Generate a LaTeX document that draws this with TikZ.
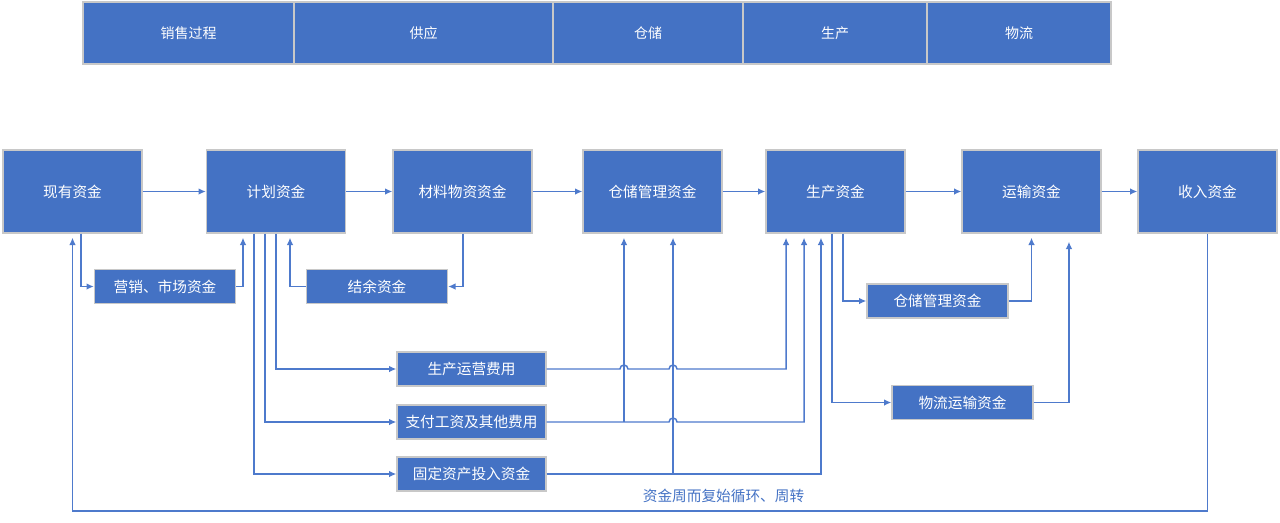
\documentclass[tikz,border=0pt]{standalone}
\usepackage{fontspec}
\newfontfamily\cjkfont{Noto Sans CJK SC}
\usetikzlibrary{arrows.meta,calc}
\definecolor{boxblue}{RGB}{68,114,196}
\definecolor{linkblue}{RGB}{78,122,204}
\definecolor{boxedge}{RGB}{200,200,200}
\tikzset{
  box/.style={draw=boxedge, line width=1pt, fill=boxblue, text=white, inner sep=0pt,
    font=\cjkfont\fontsize{11pt}{13pt}\selectfont},
  bigbox/.style={box, minimum width=104.25pt, minimum height=62.25pt},
  subbox/.style={box, minimum width=105.75pt, minimum height=25.5pt},
  costbox/.style={box, minimum width=111.75pt, minimum height=25.5pt},
  headbox/.style={box, minimum height=46.5pt, font=\cjkfont\fontsize{10.5pt}{12pt}\selectfont},
  link/.style={draw=linkblue, line width=1.1pt},
  flow/.style={link, -{Latex[length=5.5pt,width=5pt]}},
  flowup/.style={flow, shorten >=3pt},
}
\begin{document}
\begin{tikzpicture}[x=0.75pt,y=0.75pt,yscale=-1,xscale=1]
\path[use as bounding box] (0,0) rectangle (1280,522);

% Header row
\node[headbox, minimum width=158.25pt] (hxiaoshou) at (188.5,33) {销售过程};
\node[headbox, minimum width=194.25pt] (hgongying) at (423.5,33) {供应};
\node[headbox, minimum width=142.5pt] (hcangchu) at (648,33) {仓储};
\node[headbox, minimum width=138pt] (hshengchan) at (835,33) {生产};
\node[headbox, minimum width=138pt] (hwuliu) at (1019,33) {物流};

% Main row
\node[bigbox] (xianyou) at (72.5,191.5) {现有资金};
\node[bigbox] (jihua) at (276,191.5) {计划资金};
\node[bigbox] (cailiao) at (462.5,191.5) {材料物资资金};
\node[bigbox] (cangchu) at (652.5,191.5) {仓储管理资金};
\node[bigbox] (shengchan) at (835.5,191.5) {生产资金};
\node[bigbox] (yunshu) at (1031.5,191.5) {运输资金};
\node[bigbox] (shouru) at (1207.5,191.5) {收入资金};

% Lower boxes
\node[subbox] (yingxiao) at (165,286.5) {营销、市场资金};
\node[subbox] (jieyu) at (377,286.5) {结余资金};
\node[subbox] (cangchub) at (937.5,301) {仓储管理资金};
\node[subbox] (wuliu) at (962.5,402.5) {物流运输资金};
\node[costbox] (yunying) at (471.5,369) {生产运营费用};
\node[costbox] (zhifu) at (471.5,422) {支付工资及其他费用};
\node[costbox] (guding) at (471.5,474) {固定资产投入资金};

% Text Node
\node[font=\cjkfont\fontsize{11pt}{13pt}\selectfont, text=boxblue] (zhouzhuan) at (723.5,496) {资金周而复始循环、周转};

% Main flow
\draw[flow] (xianyou) -- (jihua);
\draw[flow] (jihua) -- (cailiao);
\draw[flow] (cailiao) -- (cangchu);
\draw[flow] (cangchu) -- (shengchan);
\draw[flow] (shengchan) -- (yunshu);
\draw[flow] (yunshu) -- (shouru);

% Left branches
\draw[flow] ([xshift=6.4pt]xianyou.south) |- (yingxiao.west);
\draw[flowup] (yingxiao.east) -| ([xshift=-24.75pt]jihua.south);
\draw[flow] ([xshift=0.4pt]cailiao.south) |- (jieyu.east);
\draw[flowup] (jieyu.west) -| ([xshift=10.5pt]jihua.south);
\draw[flow] ([xshift=-16.5pt]jihua.south) |- (guding.west);
\draw[flow] ([xshift=-8.25pt]jihua.south) |- (zhifu.west);
\draw[flow] (jihua.south) |- (yunying.west);

% Cost lines to storage and production
\coordinate (cangin1) at ([xshift=-21.4pt]cangchu.south);
\coordinate (cangin2) at ([xshift=15.4pt]cangchu.south);
\coordinate (shengin1) at ([xshift=-37.1pt]shengchan.south);
\coordinate (shengin2) at ([xshift=-23.6pt]shengchan.south);
\coordinate (shengin3) at ([xshift=-10.9pt]shengchan.south);

\draw[flowup] (yunying.east) -- ($(yunying.east -| cangin1)+(-4,0)$)
  arc[start angle=180,end angle=360,radius=3pt]
  -- ($(yunying.east -| cangin2)+(-4,0)$)
  arc[start angle=180,end angle=360,radius=3pt] -| (shengin1);
\draw[flowup] (zhifu.east) -- ($(zhifu.east -| cangin2)+(-4,0)$)
  arc[start angle=180,end angle=360,radius=3pt] -| (shengin2);
\draw[flowup] (zhifu.east -| cangin1) -- (cangin1);
\draw[flowup] (guding.east) -| (shengin3);
\draw[flowup] (guding.east -| cangin2) -- (cangin2);

% Right branches
\draw[flow] ([xshift=5.6pt]shengchan.south) |- (cangchub.west);
\draw[flowup] (cangchub.east) -| (yunshu.south);
\draw[flow] ([xshift=-2.6pt]shengchan.south) |- (wuliu.west);
\draw[flow, shorten >=6pt] (wuliu.east) -| ([xshift=28.1pt]yunshu.south);

% Return loop
\coordinate (huiliu) at (640,511);
\draw[flowup] (shouru.south) |- (huiliu) -| (xianyou.south);

\end{tikzpicture}
\end{document}
